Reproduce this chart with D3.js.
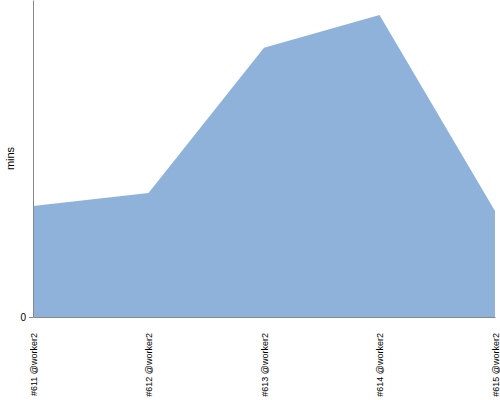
<!DOCTYPE html>
<html><head><meta charset="utf-8">
<script src="https://cdn.jsdelivr.net/npm/d3@7"></script>
<style>body{margin:0;background:#fff}svg{display:block}text{font-family:"Liberation Sans",Arial,sans-serif}</style>
</head><body><svg id="c" width="500" height="400"></svg>
<script>
const builds = ["#611 @worker2","#612 @worker2","#613 @worker2","#614 @worker2","#615 @worker2"];
const mins = [3.50, 3.91, 8.49, 9.53, 3.34];
const yTicks = [0];

const svg = d3.select("#c");
const m = {l:33, r:5, t:0, b:83};
const W = 500, H = 400;
const x = d3.scalePoint().domain(builds).range([m.l, W - m.r]);
const y = d3.scaleLinear().domain([0, 10]).range([H - m.b, m.t]);

const data = builds.map((b,i)=>({b, v:mins[i]}));
svg.append("path").datum(data)
  .attr("fill","#8fb2db")
  .attr("d", d3.area().x(d=>x(d.b)).y0(y(0)).y1(d=>y(d.v)));

const ya = svg.append("g").attr("transform",`translate(${m.l},0)`)
  .call(d3.axisLeft(y).tickValues(yTicks).tickSize(4).tickSizeOuter(0));
ya.select(".domain").attr("stroke","#888");
ya.selectAll(".tick line").attr("stroke","#888");
ya.selectAll(".tick text").attr("font-size",10).attr("fill","#000");

const xa = svg.append("g").attr("transform",`translate(0,${y(0)})`)
  .call(d3.axisBottom(x).tickSize(0).tickSizeOuter(0));
xa.select(".domain").attr("stroke","#888");
xa.selectAll(".tick text")
  .attr("font-size",9).attr("fill","#000")
  .attr("transform","rotate(-90)")
  .attr("text-anchor","end")
  .attr("x",-16).attr("y",0).attr("dy","0.35em");

svg.append("text").attr("transform",`translate(14,${(y(0)+m.t)/2}) rotate(-90)`)
  .attr("text-anchor","middle").attr("font-size",11).text("mins");
</script></body></html>
